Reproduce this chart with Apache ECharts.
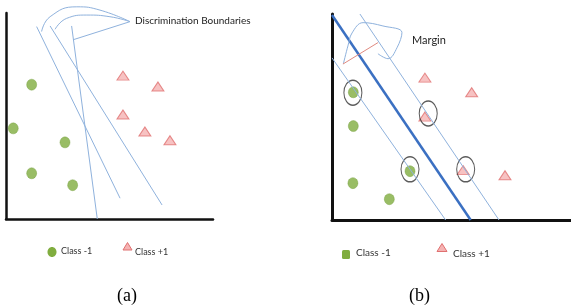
<!DOCTYPE html>
<html>
<head>
<meta charset="utf-8">
<script src="https://cdn.jsdelivr.net/npm/echarts@6/dist/echarts.min.js"></script>
<style>
html,body{margin:0;padding:0;background:#fff;}
#main{width:571px;height:307px;}
</style>
</head>
<body>
<div id="main"></div>
<script>
// panel (a)
var greenA = [[1.24,6.52],[0.35,4.40],[2.85,3.72],[1.24,2.22],[3.22,1.64]];
var redA = [[5.65,6.96],[7.34,6.43],[5.65,5.07],[6.71,4.25],[7.92,3.82]];
var boundA1 = [[1.48,9.34],[5.51,1.01]];
var boundA2 = [[2.13,9.37],[7.54,0.68]];
var boundA3 = [[3.17,9.37],[4.41,0]];
var braceOuter = [[1.72,9.10],[2.13,9.82],[3.42,10.30],[4.54,10.14],[5.99,9.58]];
var braceInner = [[2.37,9.21],[2.93,9.74],[3.90,9.90],[5.02,9.82],[5.99,9.58]];
var braceStraight = [[3.24,8.70],[5.99,9.58]];

// panel (b)
var greenB = [[1.03,6.20],[1.03,4.56],[3.77,2.37],[1.01,1.79],[2.77,1.01]];
var redB = [[4.49,6.91],[6.75,6.20],[4.49,5.02],[6.34,2.42],[8.36,2.17]];
var supportB = [[1.01,6.18],[4.65,5.17],[3.77,2.46],[6.46,2.46]];
var hyperplane = [[0,9.95],[6.70,0]];
var marginUpper = [[1.35,10],[8.07,0]];
var marginLower = [[0,7.87],[5.49,0]];
var marginArrow = [[0.53,7.57],[2.22,8.61]];
var marginBrace = [[0.55,7.58],[0.77,8.45],[0.97,9.08],[1.50,9.58],[2.46,9.42],[3.38,9.10],[3.14,8.36],[2.71,7.83],[2.22,8.07]];

var green = '#80ad3f', pinkFill = '#f5b3b3', pinkEdge = '#e07070';
var thinBlue = '#8fb2dd', thickBlue = '#3b70c2';

function axisX(idx, max) {
    return {
        gridIndex: idx, type: 'value', min: 0, max: max,
        axisLine: {show: true, onZero: false, lineStyle: {color: '#111', width: idx ? 3 : 2.5}},
        axisTick: {show: false}, axisLabel: {show: false}, splitLine: {show: false}
    };
}
function axisY(idx) {
    return {
        gridIndex: idx, type: 'value', min: 0, max: 10,
        axisLine: {show: true, onZero: false, lineStyle: {color: '#111', width: idx ? 3 : 2.5}},
        axisTick: {show: false}, axisLabel: {show: false}, splitLine: {show: false}
    };
}
function seg(idx, data, color, width, smooth) {
    return {
        type: 'line', xAxisIndex: idx, yAxisIndex: idx, data: data,
        symbol: 'none', smooth: smooth || false, clip: false, silent: true,
        lineStyle: {color: color, width: width}
    };
}
function dots(idx, data) {
    return {
        type: 'scatter', xAxisIndex: idx, yAxisIndex: idx, data: data,
        symbol: 'circle', symbolSize: [10, 11], clip: false,
        itemStyle: {color: green, borderColor: '#6f9a35', borderWidth: 0.5}
    };
}
function tris(idx, data) {
    return {
        type: 'scatter', xAxisIndex: idx, yAxisIndex: idx, data: data,
        symbol: 'triangle', symbolSize: [12, 9], clip: false,
        itemStyle: {color: pinkFill, borderColor: pinkEdge, borderWidth: 1}
    };
}

var legendFont = '9px Lato, sans-serif';

var option = {
    backgroundColor: '#fff',
    animation: false,
    grid: [
        {left: 6, top: 13, width: 207, height: 206},
        {left: 332, top: 14, width: 239, height: 206}
    ],
    xAxis: [axisX(0, 10), axisX(1, 11.55)],
    yAxis: [axisY(0), axisY(1)],
    series: [
        seg(0, boundA1, thinBlue, 1),
        seg(0, boundA2, thinBlue, 1),
        seg(0, boundA3, thinBlue, 1),
        seg(0, braceOuter, thinBlue, 1, 0.5),
        seg(0, braceInner, thinBlue, 1, 0.5),
        seg(0, braceStraight, thinBlue, 1),
        dots(0, greenA),
        tris(0, redA),
        seg(1, marginLower, thinBlue, 1),
        seg(1, marginUpper, thinBlue, 1),
        seg(1, hyperplane, thickBlue, 2.5),
        seg(1, marginBrace, thinBlue, 1, 0.4),
        seg(1, marginArrow, '#e08a80', 1),
        dots(1, greenB),
        tris(1, redB),
        {
            type: 'scatter', xAxisIndex: 1, yAxisIndex: 1, data: supportB,
            symbol: 'circle', symbolSize: [18, 25], clip: false,
            itemStyle: {color: 'rgba(0,0,0,0)', borderColor: '#333', borderWidth: 1.2}
        }
    ],
    graphic: [
        {type: 'text', left: 135, top: 16, style: {text: 'Discrimination Boundaries', font: '10px Lato, sans-serif', fill: '#222'}},
        {type: 'text', left: 412, top: 35, style: {text: 'Margin', font: '11px Lato, sans-serif', fill: '#222'}},
        // legend (a)
        {type: 'ellipse', shape: {cx: 52, cy: 252, rx: 4.5, ry: 5}, style: {fill: green}},
        {type: 'text', left: 61, top: 247, style: {text: 'Class -1', font: legendFont, fill: '#333'}},
        {type: 'polygon', shape: {points: [[127.5, 242.5], [123, 250], [132, 250]]}, style: {fill: pinkFill, stroke: pinkEdge, lineWidth: 1}},
        {type: 'text', left: 135, top: 248, style: {text: 'Class +1', font: legendFont, fill: '#333'}},
        // legend (b)
        {type: 'rect', shape: {x: 342, y: 250, width: 8, height: 9, r: 1.5}, style: {fill: green}},
        {type: 'text', left: 356, top: 248, style: {text: 'Class -1', font: '10px Lato, sans-serif', fill: '#333'}},
        {type: 'polygon', shape: {points: [[442, 243.5], [437, 251.5], [447, 251.5]]}, style: {fill: pinkFill, stroke: pinkEdge, lineWidth: 1}},
        {type: 'text', left: 453, top: 249, style: {text: 'Class +1', font: '10px Lato, sans-serif', fill: '#333'}},
        // captions
        {type: 'text', left: 117, top: 287, style: {text: '(a)', font: '18px "Liberation Serif", serif', fill: '#000'}},
        {type: 'text', left: 409, top: 287, style: {text: '(b)', font: '18px "Liberation Serif", serif', fill: '#000'}}
    ]
};

var chart = echarts.init(document.getElementById('main'));
chart.setOption(option);
</script>
</body>
</html>
